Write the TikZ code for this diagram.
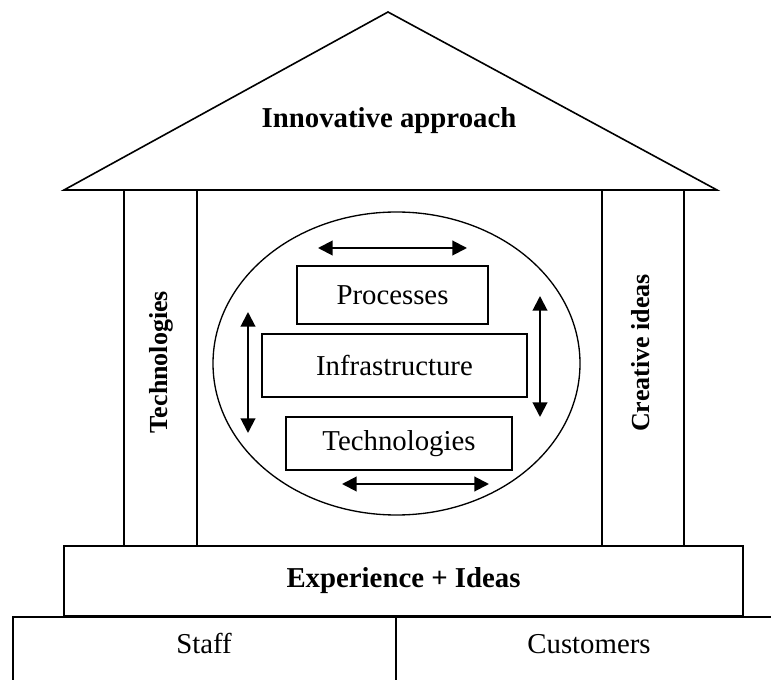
\documentclass[tikz,border=0pt]{standalone}
\usepackage{fontspec}
\setmainfont{Liberation Serif}
\usetikzlibrary{arrows.meta}
\tikzset{every picture/.style={line width=1.2pt}}
\tikzset{
  housetext/.style={font=\fontsize{21.6}{24}\selectfont},
  pillartext/.style={font=\fontsize{19.5}{22}\selectfont\bfseries, rotate=90},
  innerbox/.style={draw, line width=1.2pt, housetext, inner sep=0pt},
  linkarrow/.style={{Triangle[length=11pt,width=11pt]}-{Triangle[length=11pt,width=11pt]}, line width=1.5pt}
}

\begin{document}
\begin{tikzpicture}[x=0.75pt,y=0.75pt,yscale=-1,xscale=1]
        \useasboundingbox (0,0) rectangle (771,680);

        %Roof
        \draw   (388,12) -- (64,190) -- (717,190) -- cycle ;
        \node[housetext, font=\fontsize{21.6}{24}\selectfont\bfseries] (roof) at (389,121) {Innovative approach};

        %Pillars
        \draw   (124,190) -- (124,546) ;
        \draw   (197,190) -- (197,546) ;
        \draw   (602,190) -- (602,546) ;
        \draw   (684,190) -- (684,546) ;
        \node[pillartext] (techpillar) at (161,362) {Technologies};
        \node[pillartext] (ideaspillar) at (641,353) {Creative ideas};

        %Ellipse
        \draw[line width=1pt]   (396.5,363.5) ellipse (183.5 and 151.5) ;

        %Inner boxes
        \node[innerbox, minimum width=143.25pt, minimum height=43.5pt] (processes) at (392.5,295) {Processes};
        \node[innerbox, minimum width=198.75pt, minimum height=47.25pt] (infra) at (394.5,365.5) {Infrastructure};
        \node[innerbox, minimum width=169.5pt, minimum height=39.75pt] (tech) at (399,443.5) {Technologies};

        %Arrows
        \coordinate (topL) at (318,248) ;
        \coordinate (topR) at (467,248) ;
        \coordinate (botL) at (342,484) ;
        \coordinate (botR) at (489,484) ;
        \coordinate (leftT) at (248,312) ;
        \coordinate (leftB) at (248,433) ;
        \coordinate (rightT) at (540,296) ;
        \coordinate (rightB) at (540,417) ;
        \draw[linkarrow] (topL) -- (topR) ;
        \draw[linkarrow] (botL) -- (botR) ;
        \draw[linkarrow] (leftT) -- (leftB) ;
        \draw[linkarrow] (rightT) -- (rightB) ;

        %Foundation
        \node[draw, housetext, font=\fontsize{21.6}{24}\selectfont\bfseries, minimum width=509.25pt, minimum height=52.5pt] (base) at (403.5,581) {Experience + Ideas};
        \node[draw, housetext, minimum width=287.25pt, minimum height=60pt, anchor=north west] (staff) at (12,616) {};
        \node[draw, housetext, minimum width=290pt, minimum height=60pt, anchor=north west] (customers) at (395,616) {};
        \node[housetext, anchor=base] (stafftext) at (204,653) {Staff};
        \node[housetext, anchor=base] (custtext) at (589,653) {Customers};

\end{tikzpicture}
\end{document}
